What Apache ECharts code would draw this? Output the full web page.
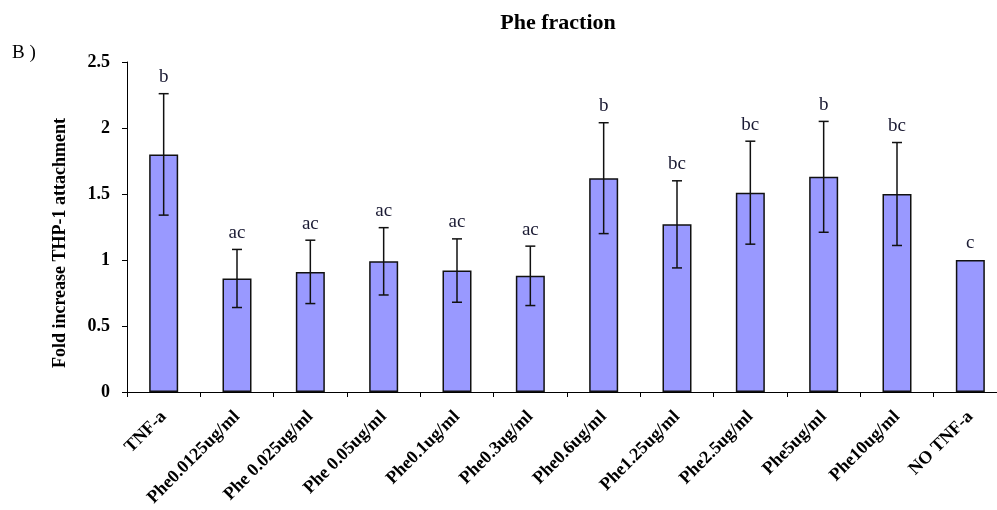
<!DOCTYPE html>
<html>
<head>
<meta charset="utf-8">
<script src="https://cdn.jsdelivr.net/npm/echarts@6/dist/echarts.min.js"></script>
<style>html,body{margin:0;padding:0;background:#fff;overflow:hidden;width:997px;height:510px;}#c{width:1008px;height:510px;}</style>
</head>
<body>
<div id="c"></div>
<script>
const categories = ['TNF-a','Phe0.0125ug/ml','Phe 0.025ug/ml','Phe 0.05ug/ml','Phe0.1ug/ml','Phe0.3ug/ml','Phe0.6ug/ml','Phe1.25ug/ml','Phe2.5ug/ml','Phe5ug/ml','Phe10ug/ml','NO TNF-a'];
const means = [1.80, 0.86, 0.91, 0.99, 0.92, 0.88, 1.62, 1.27, 1.51, 1.63, 1.50, 1.00];
const errors = [0.46, 0.22, 0.24, 0.255, 0.24, 0.225, 0.42, 0.33, 0.39, 0.42, 0.39, 0];
const letters = ['b','ac','ac','ac','ac','ac','b','bc','bc','b','bc','c'];
const yTicks = [0, 0.5, 1, 1.5, 2, 2.5];

const serif = '"Liberation Serif", "DejaVu Serif", serif';
const chart = echarts.init(document.getElementById('c'));
const errData = means.map((m, i) => [i, m + errors[i], m - errors[i], m]);

chart.setOption({
  animation: false,
  grid: { left: 127, top: 62, right: 1, height: 330, containLabel: false },
  title: {
    text: 'Phe fraction', left: 553, top: 7, textAlign: 'center',
    textStyle: { fontFamily: serif, fontWeight: 'bold', fontSize: 22, color: '#000' }
  },
  graphic: [
    { type: 'text', left: 12, top: 44, style: { text: 'B )', font: '19px ' + serif, fill: '#000' } },
    { type: 'text', x: 60, y: 243, rotation: Math.PI / 2,
      style: { text: 'Fold increase THP-1 attachment', font: 'bold 18px ' + serif, fill: '#000', align: 'center', verticalAlign: 'middle' } }
  ],
  xAxis: {
    type: 'category', data: categories, boundaryGap: true,
    axisLine: { lineStyle: { color: '#000', width: 1 } },
    axisTick: { show: true, length: 5, alignWithLabel: false, lineStyle: { color: '#000' } },
    axisLabel: { interval: 0, rotate: 45, margin: 22, fontFamily: serif, fontWeight: 'bold', fontSize: 18, color: '#000' }
  },
  yAxis: {
    type: 'value', min: yTicks[0], max: yTicks[yTicks.length - 1], interval: 0.5,
    splitLine: { show: false },
    axisLine: { show: true, lineStyle: { color: '#000', width: 1 } },
    axisTick: { show: true, length: 5, lineStyle: { color: '#000' } },
    axisLabel: { margin: 17, fontFamily: serif, fontWeight: 'bold', fontSize: 18, color: '#000' }
  },
  series: [
    {
      type: 'bar', data: means, barWidth: 29,
      itemStyle: { color: '#9999ff', borderColor: '#111', borderWidth: 1.5 }
    },
    {
      type: 'custom', data: errData, z: 10,
      renderItem: function (params, api) {
        const i = api.value(0);
        const hi = api.coord([i, api.value(1)]);
        const lo = api.coord([i, api.value(2)]);
        const top = api.coord([i, api.value(3)]);
        const cap = 5;
        const children = [];
        const style = { stroke: '#111', lineWidth: 1.5 };
        if (errors[i] > 0) {
          children.push({ type: 'line', shape: { x1: hi[0], y1: hi[1], x2: lo[0], y2: lo[1] }, style: style });
          children.push({ type: 'line', shape: { x1: hi[0] - cap, y1: hi[1], x2: hi[0] + cap, y2: hi[1] }, style: style });
          children.push({ type: 'line', shape: { x1: lo[0] - cap, y1: lo[1], x2: lo[0] + cap, y2: lo[1] }, style: style });
        }
        const yText = Math.min(hi[1], top[1]) - 7;
        children.push({ type: 'text', style: { text: letters[i], x: hi[0], y: yText, font: '19px ' + serif, fill: '#1a1a33', align: 'center', verticalAlign: 'bottom' } });
        return { type: 'group', children: children };
      }
    }
  ]
});
</script>
</body>
</html>
